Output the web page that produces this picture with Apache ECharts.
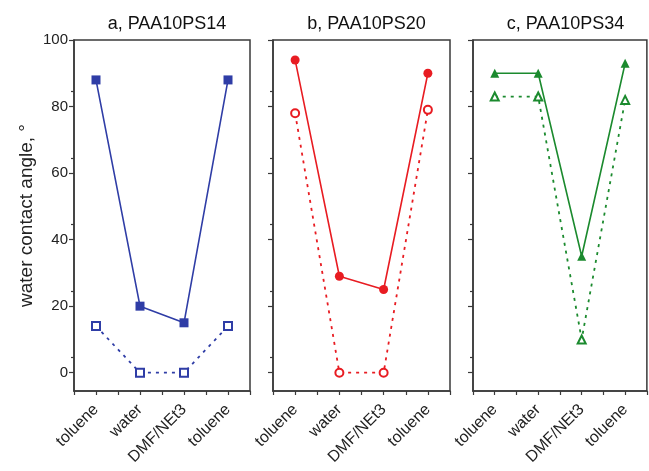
<!DOCTYPE html>
<html>
<head>
<meta charset="utf-8">
<script src="https://cdn.jsdelivr.net/npm/echarts@6/dist/echarts.min.js"></script>
<style>
  html, body { margin: 0; padding: 0; background: #fff; }
  #chart { width: 649px; height: 471px; }
</style>
</head>
<body>
<div id="chart"></div>
<script>
// solvents, in the order they were applied
const solvents = ['toluene', 'water', 'DMF/NEt3', 'toluene'];
const panelTitles = ['a, PAA10PS14', 'b, PAA10PS20', 'c, PAA10PS34'];

// advancing (filled) and receding (open) contact angles, degrees
const ps14Filled = [88, 20, 15, 88];
const ps14Open = [14, 0, 0, 14];
const ps20Filled = [94, 29, 25, 90];
const ps20Open = [78, 0, 0, 79];
const ps34Filled = [90, 90, 35, 93];
const ps34Open = [83, 83, 10, 82];

const yTicks = [0, 20, 40, 60, 80, 100];

const panels = [
  { left: 74, width: 176, color: '#2f3da6', symbol: 'rect', filled: ps14Filled, open: ps14Open },
  { left: 273, width: 177, color: '#e81c22', symbol: 'circle', filled: ps20Filled, open: ps20Open },
  { left: 473, width: 175, color: '#1b8a2e', symbol: 'triangle', filled: ps34Filled, open: ps34Open }
];

const axisColor = '#3a3a3a';
const font = 'Liberation Sans, Arial, sans-serif';

const pairs = vals => vals.map((v, i) => [i, v]);

let myChart = echarts.init(document.getElementById('chart'));

const grids = [], xAxes = [], yAxes = [], series = [], titles = [];

panels.forEach((p, k) => {
  grids.push({
    left: p.left, width: p.width, top: 40, height: 351,
    show: true, borderColor: axisColor, borderWidth: 1.5, backgroundColor: 'transparent'
  });
  titles.push({
    text: panelTitles[k],
    left: p.left + p.width / 2, top: 10, textAlign: 'center',
    textStyle: { fontFamily: font, fontSize: 18, fontWeight: 'normal', color: '#111' }
  });
  xAxes.push({
    type: 'value', gridIndex: k, min: -0.5, max: 3.5, interval: 0.5,
    splitLine: { show: false },
    axisLine: { onZero: false, lineStyle: { color: axisColor, width: 1.5 } },
    axisTick: { length: 4, lineStyle: { color: axisColor, width: 1.2 } },
    axisLabel: {
      rotate: 45, margin: 16, color: '#222', fontFamily: font, fontSize: 16,
      showMinLabel: true, showMaxLabel: true,
      formatter: v => Number.isInteger(v) ? solvents[v] : ''
    }
  });
  yAxes.push({
    type: 'value', gridIndex: k, min: -5.5, max: 100, interval: 20,
    splitLine: { show: false },
    axisLine: { show: true, onZero: false, lineStyle: { color: axisColor, width: 1.5 } },
    axisTick: { show: true, length: 5, lineStyle: { color: axisColor, width: 1.2 },
      customValues: yTicks },
    minorTick: { show: true, splitNumber: 2, length: 3, lineStyle: { color: axisColor, width: 1.2 } },
    axisLabel: {
      show: k === 0, margin: 6, color: '#222', fontFamily: font, fontSize: 15,
      customValues: yTicks
    },
    name: k === 0 ? 'water contact angle, °' : '',
    nameLocation: 'middle', nameRotate: 90, nameGap: 38,
    nameTextStyle: { fontFamily: font, fontSize: 19, color: '#222' }
  });
  series.push({
    type: 'line', xAxisIndex: k, yAxisIndex: k, data: pairs(p.filled),
    symbol: p.symbol, symbolSize: 9,
    itemStyle: { color: p.color },
    lineStyle: { color: p.color, width: 1.6 },
    animation: false
  });
  series.push({
    type: 'line', xAxisIndex: k, yAxisIndex: k, data: pairs(p.open),
    symbol: 'empty' + p.symbol.charAt(0).toUpperCase() + p.symbol.slice(1),
    symbolSize: 8,
    itemStyle: { color: p.color, borderColor: p.color, borderWidth: 1.5 },
    lineStyle: { color: p.color, width: 1.8, type: [3, 5] },
    animation: false
  });
});

myChart.setOption({
  backgroundColor: '#fff',
  animation: false,
  title: titles,
  grid: grids,
  xAxis: xAxes,
  yAxis: yAxes,
  series: series
});
</script>
</body>
</html>
